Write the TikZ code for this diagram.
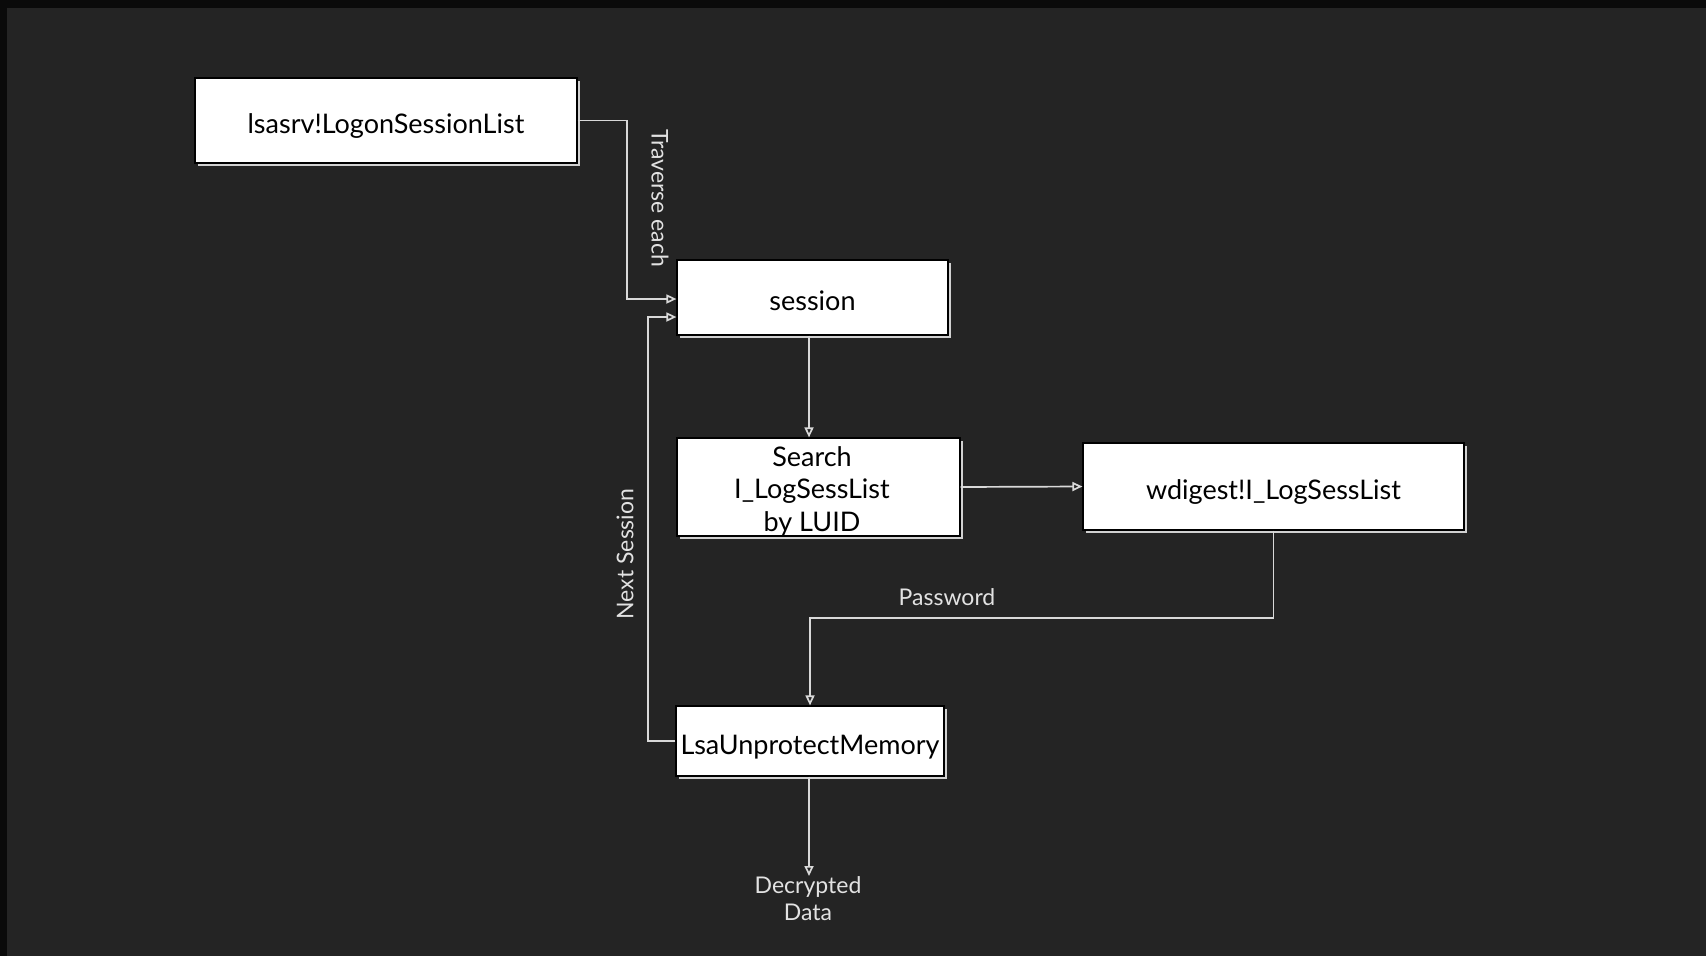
\documentclass[tikz,border=0pt]{standalone}
\usepackage{fontspec}
\setmainfont{Lato}
\usetikzlibrary{arrows.meta,shadows}
\definecolor{bgc}{HTML}{242424}
\definecolor{edge}{HTML}{0A0A0A}
\definecolor{linec}{HTML}{D9D9D9}
\definecolor{labc}{HTML}{E2E2E2}
\tikzset{
  box/.style={draw=black, line width=1.2pt, fill=white, inner sep=0pt, align=center,
    font=\fontsize{27}{32}\selectfont, text=black, text height=26pt, text depth=0pt,
    drop shadow={shadow xshift=3pt, shadow yshift=-3pt, fill=white!82!black, opacity=1}},
  conn/.style={draw=linec, line width=1.7pt, -{Triangle[open, length=10pt, width=9pt]}},
  lab/.style={text=labc, font=\fontsize{23}{27}\selectfont, inner sep=0pt, align=center}
}
\begin{document}
\begin{tikzpicture}[x=1pt,y=-1pt]
\useasboundingbox (0,0) rectangle (1706,956);
\fill[bgc] (0,0) rectangle (1706,956);
\fill[edge] (0,0) rectangle (1706,8);
\fill[edge] (0,0) rectangle (7,956);

\node[box, minimum width=382pt, minimum height=85pt] (lsasrv) at (386,120.5) {lsasrv!LogonSessionList};
\node[box, minimum width=271pt, minimum height=75pt] (session) at (812.5,297.5) {session};
\node[box, minimum width=283pt, minimum height=98pt] (search) at (818.5,487) {};
\node[text=black, font=\fontsize{27}{32.5}\selectfont, align=center, inner sep=0pt] (searchtxt) at (812,491) {Search\\I\_LogSessList\\by LUID};
\node[box, minimum width=381pt, minimum height=87pt] (wdigest) at (1273.5,486.5) {wdigest!I\_LogSessList};
\node[box, minimum width=268pt, minimum height=70pt] (lsa) at (810,741) {LsaUnprotectMemory};
\node[lab, anchor=north] (dec) at (808,876) {Decrypted\\Data};

\coordinate (tx) at (627,0);
\coordinate (nx) at (648,0);
\coordinate (py) at (0,618);

% Traverse each
\draw[conn] (lsasrv.east) -- (lsasrv.east -| tx) -- ([yshift=-1.5pt]session.west -| tx) -- ([yshift=-1.5pt]session.west);
\node[lab, rotate=-90] (trav) at (660,198) {Traverse each};

% Next session
\draw[conn] (lsa.west) -- (lsa.west -| nx) -- ([yshift=-19.5pt]session.west -| nx) -- ([yshift=-19.5pt]session.west);
\node[lab, rotate=90] (next) at (625,554) {Next Session};

% session -> search
\draw[conn] ([xshift=-3.5pt]session.south) -- ([xshift=-3.5pt]session.south |- search.north);

% search -> wdigest
\draw[conn] (search.east) -- (wdigest.west);

% wdigest -> lsa (Password)
\draw[conn] (wdigest.south) -- (wdigest.south |- py) -- (lsa.north |- py) -- (lsa.north);
\node[lab] (pw) at (947,597) {Password};

% lsa -> decrypted
\draw[conn] ([xshift=-1pt]lsa.south) -- ([xshift=-1pt]lsa.south |- dec.north);
\end{tikzpicture}
\end{document}
